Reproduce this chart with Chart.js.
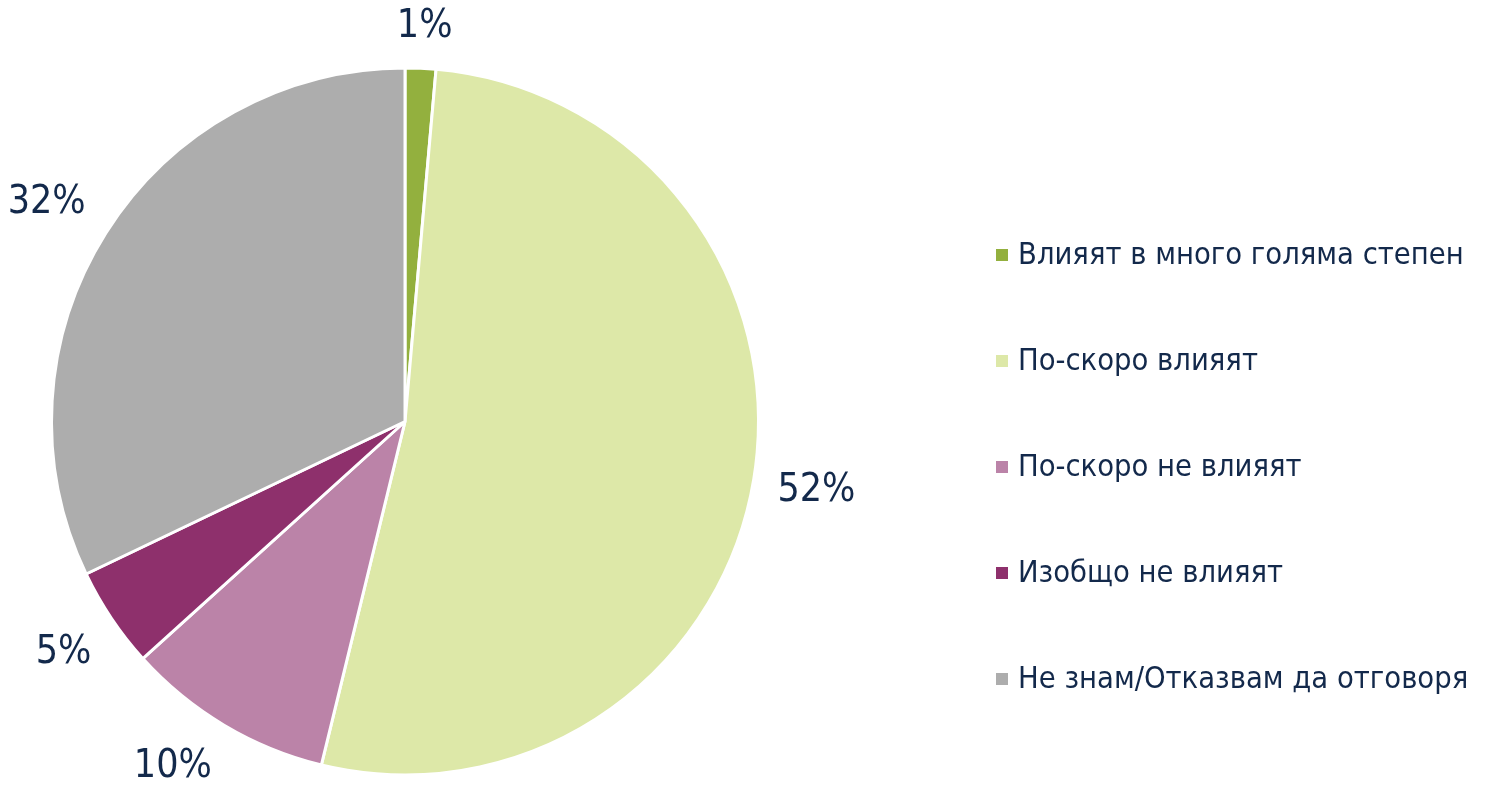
<!DOCTYPE html>
<html>
<head>
<meta charset="utf-8">
<script src="https://cdn.jsdelivr.net/npm/chart.js@4/dist/chart.umd.min.js"></script>
<style>
html,body{margin:0;padding:0;background:#fff;}
#wrap{position:relative;width:1490px;height:785px;}
</style>
</head>
<body>
<div id="wrap"><canvas id="c" width="1490" height="785"></canvas></div>
<script>
const categories = [
  "Влияят в много голяма степен",
  "По-скоро влияят",
  "По-скоро не влияят",
  "Изобщо не влияят",
  "Не знам/Отказвам да отговоря"
];
const values = [1.4, 52.4, 9.5, 4.6, 32.1];
const colors = ["#93b03e", "#dde8a8", "#bb83a8", "#8e306c", "#adadad"];

const TEXT_COLOR = "#13294b";
const LABEL_FONT = "39px 'Liberation Sans Narrow', 'DejaVu Sans Condensed', sans-serif";
const LEGEND_FONT = "30.6px 'Liberation Sans Narrow', 'DejaVu Sans Condensed', sans-serif";

const outsideLabels = {
  id: 'outsideLabels',
  afterDatasetsDraw(chart) {
    const ctx = chart.ctx;
    const meta = chart.getDatasetMeta(0);
    const total = values.reduce((a, b) => a + b, 0);
    ctx.save();
    ctx.font = LABEL_FONT;
    ctx.fillStyle = TEXT_COLOR;
    ctx.textAlign = 'center';
    ctx.textBaseline = 'middle';
    meta.data.forEach((arc, i) => {
      const p = arc.getProps(['x', 'y', 'startAngle', 'endAngle', 'outerRadius'], true);
      const mid = (p.startAngle + p.endAngle) / 2;
      const R = p.outerRadius + 24;
      const c = Math.cos(mid), s = Math.sin(mid);
      const txt = Math.round(values[i] / total * 100) + '%';
      const w = ctx.measureText(txt).width;
      const h = 38;
      const ox = Math.sign(c) * w / 2 * Math.min(1, Math.abs(c) * 2.5);
      const oy = Math.sign(s) * h / 2 * Math.min(1, Math.abs(s) * 2);
      ctx.fillText(txt, p.x + c * R + ox, p.y + s * R + oy + 2);
    });
    ctx.restore();
  }
};

const sideLegend = {
  id: 'sideLegend',
  afterDraw(chart) {
    const ctx = chart.ctx;
    const x0 = 996, y0 = 256, step = 106, box = 12;
    ctx.save();
    ctx.font = LEGEND_FONT;
    ctx.textBaseline = 'middle';
    ctx.textAlign = 'left';
    chart.data.labels.forEach((lab, i) => {
      const y = y0 + i * step;
      ctx.fillStyle = chart.data.datasets[0].backgroundColor[i];
      ctx.fillRect(x0, y - box / 2 - 1, box, box);
      ctx.fillStyle = TEXT_COLOR;
      ctx.fillText(lab, x0 + 22, y);
    });
    ctx.restore();
  }
};

new Chart(document.getElementById('c'), {
  type: 'pie',
  data: {
    labels: categories,
    datasets: [{
      data: values,
      backgroundColor: colors,
      borderColor: '#ffffff',
      borderWidth: 3
    }]
  },
  options: {
    responsive: false,
    animation: false,
    layout: { padding: { left: 50, right: 730, top: 66, bottom: 8 } },
    plugins: { legend: { display: false }, tooltip: { enabled: false } }
  },
  plugins: [outsideLabels, sideLegend]
});
</script>
</body>
</html>
